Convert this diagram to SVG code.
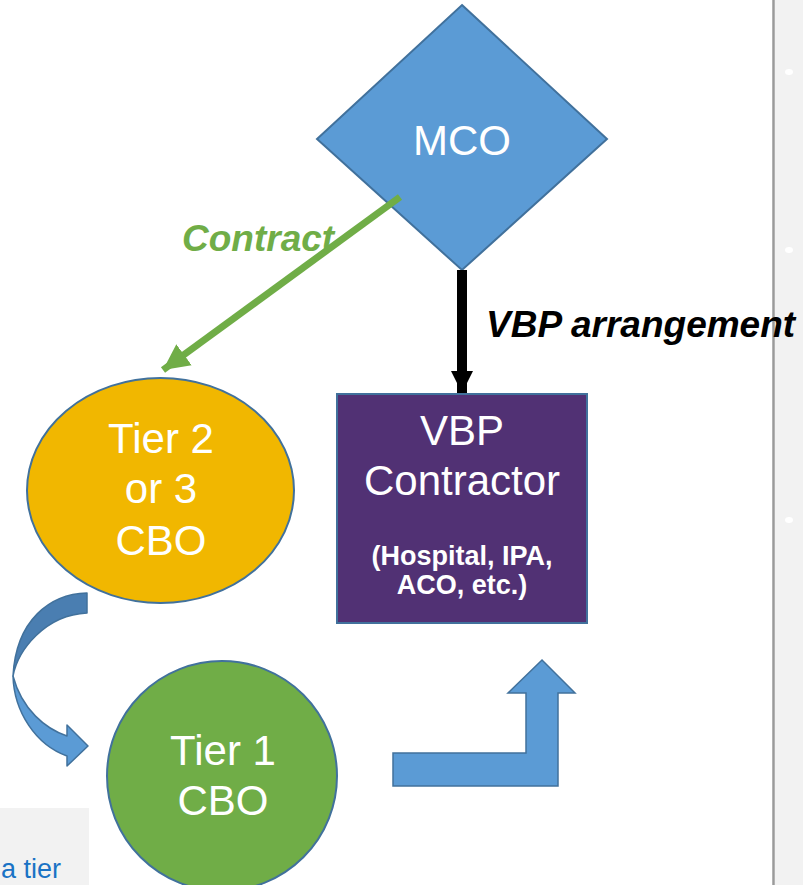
<svg xmlns="http://www.w3.org/2000/svg" width="803" height="885" viewBox="0 0 803 885">
  <defs>
    <style>
      .shape { stroke: #41719c; stroke-width: 2; }
      .lbl { font-family: "Liberation Sans", Arial, sans-serif; fill: #ffffff; text-anchor: middle; }
      .big { font-size: 42px; }
      .note { font-size: 27px; font-weight: bold; }
      .edge-lbl { font-family: "Liberation Sans", Arial, sans-serif; font-size: 37px; font-weight: bold; font-style: italic; }
    </style>
    <marker id="head-black" markerUnits="userSpaceOnUse" markerWidth="24" markerHeight="24" viewBox="0 0 24 24" refX="22" refY="12" orient="auto">
      <path d="M0,1 L22,12 L0,23 Z" fill="#000000"/>
    </marker>
    <marker id="head-green" markerUnits="userSpaceOnUse" markerWidth="28" markerHeight="28" viewBox="0 0 28 28" refX="26" refY="14" orient="auto">
      <path d="M0,1 L26,14 L0,27 Z" fill="#70ad47"/>
    </marker>
  </defs>

  <!-- page background -->
  <rect x="0" y="0" width="803" height="885" fill="#ffffff"/>

  <!-- side panel -->
  <g id="side-panel">
    <rect x="775" y="0" width="28" height="885" fill="#f2f2f2"/>
    <line x1="773.5" y1="0" x2="773.5" y2="885" stroke="#9a9a9a" stroke-width="2.5"/>
    <ellipse cx="789" cy="72" rx="4" ry="3" fill="#ffffff"/>
    <ellipse cx="789" cy="250" rx="4" ry="3" fill="#ffffff"/>
    <ellipse cx="789" cy="520" rx="4" ry="3" fill="#ffffff"/>
  </g>

  <!-- bottom-left note box -->
  <g id="note-box">
    <rect x="0" y="808" width="89" height="77" fill="#f2f2f2"/>
    <text x="1" y="878" font-family="'Liberation Sans', Arial, sans-serif" font-size="27" fill="#1a73c5">a tier</text>
  </g>

  <!-- MCO -->
  <g id="mco">
    <polygon class="shape" points="462,5 607,139 462,270 317,139" fill="#5b9bd5"/>
    <text class="lbl big" x="462" y="155">MCO</text>
  </g>

  <!-- VBP Contractor -->
  <g id="vbp-contractor">
    <rect class="shape" x="337" y="394" width="250" height="229" fill="#513174"/>
    <text class="lbl big" x="462" y="445">VBP</text>
    <text class="lbl big" x="462" y="495">Contractor</text>
    <text class="lbl note" x="462" y="565">(Hospital, IPA,</text>
    <text class="lbl note" x="462" y="594">ACO, etc.)</text>
  </g>

  <!-- Tier 2 or 3 CBO -->
  <g id="tier2-cbo">
    <ellipse class="shape" cx="160.5" cy="490.5" rx="133.5" ry="112.5" fill="#f1b700"/>
    <text class="lbl big" x="161" y="453">Tier 2</text>
    <text class="lbl big" x="161" y="503">or 3</text>
    <text class="lbl big" x="161" y="555">CBO</text>
  </g>

  <!-- Tier 1 CBO -->
  <g id="tier1-cbo">
    <circle class="shape" cx="222" cy="776" r="115" fill="#70ad47"/>
    <text class="lbl big" x="223" y="765">Tier 1</text>
    <text class="lbl big" x="223" y="815">CBO</text>
  </g>

  <!-- connectors -->
  <g id="connectors">
    <!-- MCO to VBP Contractor -->
    <line x1="462" y1="270" x2="462" y2="393" stroke="#000000" stroke-width="10" marker-end="url(#head-black)"/>
    <text class="edge-lbl" x="486" y="337" fill="#000000">VBP arrangement</text>

    <!-- MCO to Tier 2 or 3 CBO -->
    <line x1="400" y1="197" x2="163" y2="370" stroke="#70ad47" stroke-width="7" marker-end="url(#head-green)"/>
    <text class="edge-lbl" x="182" y="251" fill="#70ad47">Contract</text>

    <!-- curved arrow: Tier 2 or 3 CBO to Tier 1 CBO -->
    <g id="curved-arrow" stroke="#41719c" stroke-width="1.5" stroke-linejoin="round">
      <path d="M87,593 C50,594 16,620 13,676 C18,650 45,615 87,613 Z" fill="#4a7eb1"/>
      <path d="M13,676 C14,712 36,745 67,756 L67,766 L88,746 L67,725 L67,736 C46,729 22,710 13,676 Z" fill="#5b9bd5"/>
    </g>

    <!-- bent-up arrow: Tier 1 CBO to VBP Contractor -->
    <path id="bent-arrow" d="M393,786 L393,753 L526,753 L526,693 L508,693 L542,660 L575,693 L558,693 L558,786 Z" fill="#5b9bd5" stroke="#41719c" stroke-width="1.5" stroke-linejoin="miter"/>
  </g>
</svg>
